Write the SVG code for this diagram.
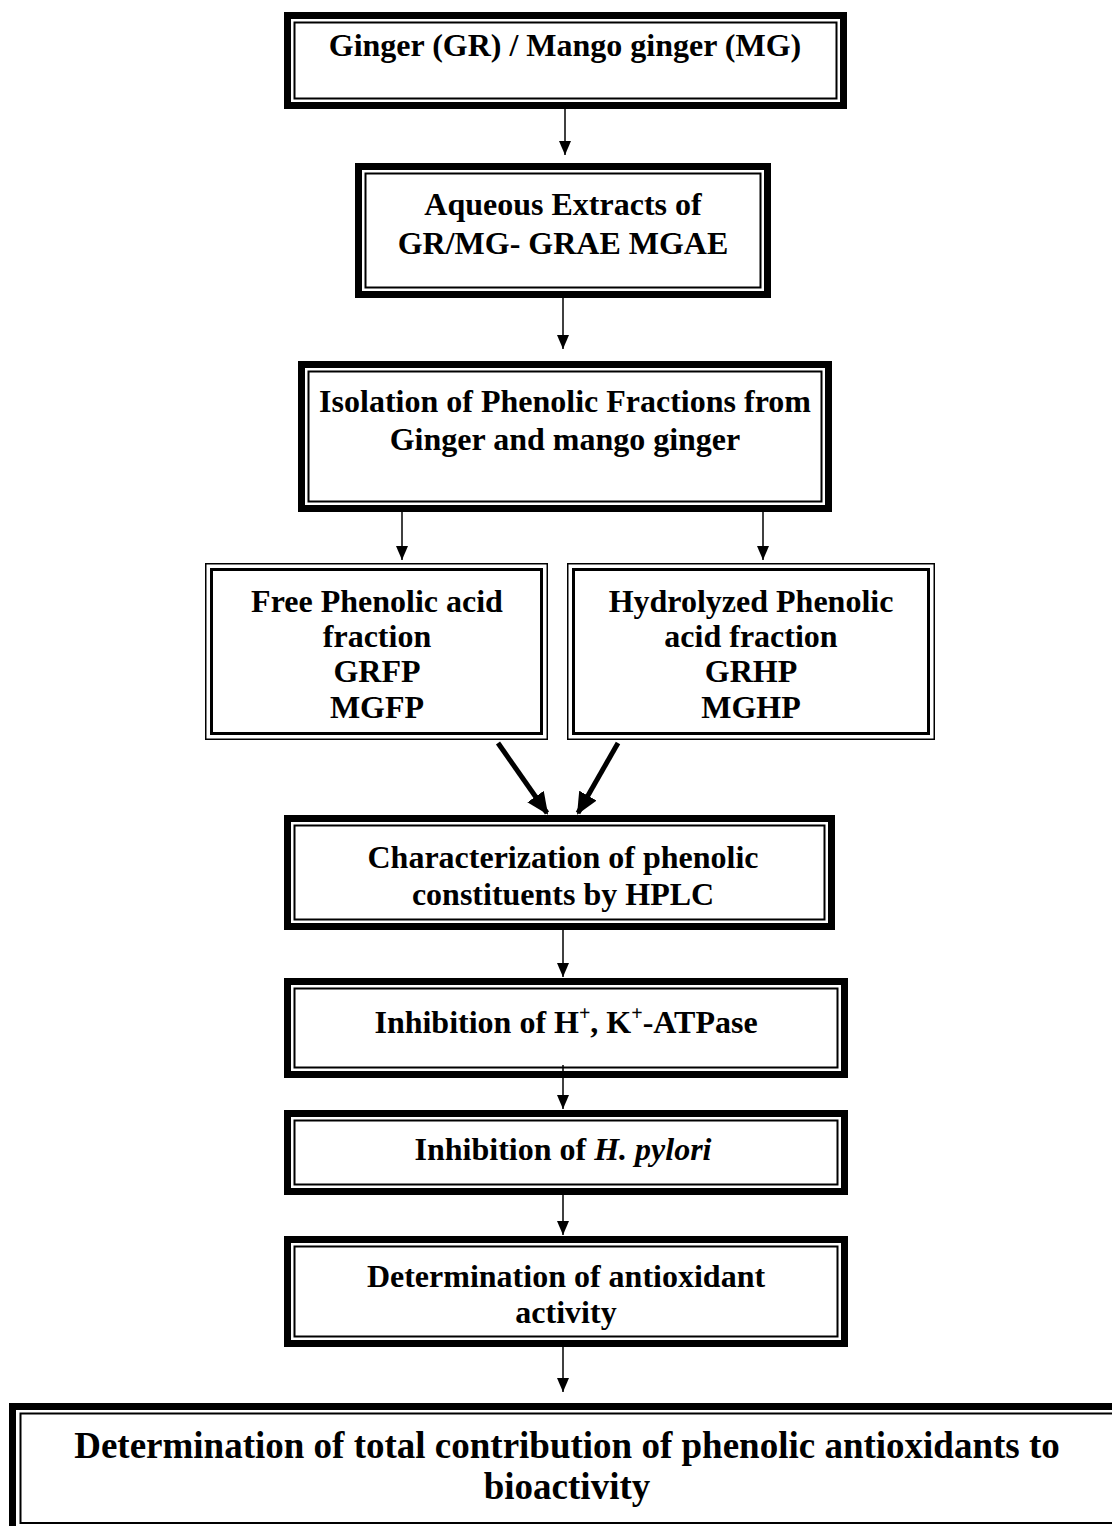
<svg xmlns="http://www.w3.org/2000/svg" width="1112" height="1526" viewBox="0 0 1112 1526">
  <style>
    .bg { fill: #ffffff; }
    .outer { fill: none; stroke: #000; stroke-width: 7; }
    .inner { fill: none; stroke: #000; stroke-width: 2; }
    .hair { fill: none; stroke: #000; stroke-width: 1.5; }
    .mid { fill: none; stroke: #000; stroke-width: 3; }
    .lbl { font-weight: bold; font-size: 32px; text-anchor: middle; fill: #000; }
    .big { font-size: 37px; }
    .conn { fill: none; stroke: #000; stroke-width: 1.5; }
    .heavy { fill: none; stroke: #000; stroke-width: 5; }
  </style>
  <defs>
    <marker id="tip" viewBox="0 0 14 12" refX="14" refY="6" markerWidth="14" markerHeight="12" markerUnits="userSpaceOnUse" orient="auto">
      <path d="M0,0 L14,6 L0,12 Z" fill="#000"/>
    </marker>
    <marker id="tipBig" viewBox="0 0 22 20" refX="20" refY="10" markerWidth="22" markerHeight="20" markerUnits="userSpaceOnUse" orient="auto">
      <path d="M0,0 L22,10 L0,20 Z" fill="#000"/>
    </marker>
  </defs>

  <rect class="bg" x="0" y="0" width="1112" height="1526"/>

  <!-- connectors -->
  <g id="connectors">
    <line class="conn" x1="565" y1="109" x2="565" y2="155" marker-end="url(#tip)"/>
    <line class="conn" x1="563" y1="298" x2="563" y2="349" marker-end="url(#tip)"/>
    <line class="conn" x1="402" y1="512" x2="402" y2="560" marker-end="url(#tip)"/>
    <line class="conn" x1="763" y1="512" x2="763" y2="560" marker-end="url(#tip)"/>
    <line class="heavy" x1="498" y1="743" x2="547" y2="813" marker-end="url(#tipBig)"/>
    <line class="heavy" x1="618" y1="743" x2="578" y2="813" marker-end="url(#tipBig)"/>
    <line class="conn" x1="563" y1="930" x2="563" y2="977" marker-end="url(#tip)"/>
    <line class="conn" x1="563" y1="1065" x2="563" y2="1109" marker-end="url(#tip)"/>
    <line class="conn" x1="563" y1="1193" x2="563" y2="1235" marker-end="url(#tip)"/>
    <line class="conn" x1="563" y1="1347" x2="563" y2="1392" marker-end="url(#tip)"/>
  </g>

  <g font-family="Liberation Serif, Tinos, Times New Roman, Times, Nimbus Roman, FreeSerif, serif">
  <g id="ginger">
    <rect class="outer" x="287.5" y="15.5" width="556" height="90"/>
    <rect class="inner" x="294.5" y="22.5" width="542" height="76"/>
    <text class="lbl" x="565" y="56">Ginger (GR) / Mango ginger (MG)</text>
  </g>

  <g id="aqueous-extracts">
    <rect class="outer" x="358.5" y="166.5" width="409" height="128"/>
    <rect class="inner" x="365.5" y="173.5" width="395" height="114"/>
    <text class="lbl" x="563" y="215">Aqueous Extracts of</text>
    <text class="lbl" x="563" y="254">GR/MG- GRAE MGAE</text>
  </g>

  <g id="isolation">
    <rect class="outer" x="301.5" y="364.5" width="527" height="144"/>
    <rect class="inner" x="308.5" y="371.5" width="513" height="130"/>
    <text class="lbl" x="565" y="412">Isolation of Phenolic Fractions from</text>
    <text class="lbl" x="565" y="450">Ginger and mango ginger</text>
  </g>

  <g id="free-phenolic">
    <rect class="hair" x="205.75" y="563.75" width="341.5" height="175.5"/>
    <rect class="mid" x="211.5" y="569.5" width="330" height="164"/>
    <text class="lbl" x="377" y="612">Free Phenolic acid</text>
    <text class="lbl" x="377" y="647">fraction</text>
    <text class="lbl" x="377" y="682">GRFP</text>
    <text class="lbl" x="377" y="718">MGFP</text>
  </g>

  <g id="hydrolyzed-phenolic">
    <rect class="hair" x="567.75" y="563.75" width="366.5" height="175.5"/>
    <rect class="mid" x="573.5" y="569.5" width="355" height="164"/>
    <text class="lbl" x="751" y="612">Hydrolyzed Phenolic</text>
    <text class="lbl" x="751" y="647">acid fraction</text>
    <text class="lbl" x="751" y="682">GRHP</text>
    <text class="lbl" x="751" y="718">MGHP</text>
  </g>

  <g id="hplc">
    <rect class="outer" x="287.5" y="818.5" width="544" height="108"/>
    <rect class="inner" x="294.5" y="825.5" width="530" height="94"/>
    <text class="lbl" x="563" y="868">Characterization of phenolic</text>
    <text class="lbl" x="563" y="905">constituents by HPLC</text>
  </g>

  <g id="atpase">
    <rect class="outer" x="287.5" y="981.5" width="557" height="93"/>
    <rect class="inner" x="294.5" y="988.5" width="543" height="79"/>
    <text class="lbl" x="566" y="1033">Inhibition of H<tspan dy="-13" font-size="20">+</tspan><tspan dy="13">, K</tspan><tspan dy="-13" font-size="20">+</tspan><tspan dy="13">-ATPase</tspan></text>
  </g>

  <g id="pylori">
    <rect class="outer" x="287.5" y="1113.5" width="557" height="78"/>
    <rect class="inner" x="294.5" y="1120.5" width="543" height="64"/>
    <text class="lbl" x="563" y="1160">Inhibition of <tspan font-style="italic">H. pylori</tspan></text>
  </g>

  <g id="antioxidant">
    <rect class="outer" x="287.5" y="1239.5" width="557" height="104"/>
    <rect class="inner" x="294.5" y="1246.5" width="543" height="90"/>
    <text class="lbl" x="566" y="1287">Determination of antioxidant</text>
    <text class="lbl" x="566" y="1323">activity</text>
  </g>

  <g id="total-contribution">
    <rect class="outer" x="12.5" y="1406.5" width="1200" height="130"/>
    <rect class="inner" x="20.5" y="1413.5" width="1190" height="109.5"/>
    <text class="lbl big" x="567" y="1458">Determination of total contribution of phenolic antioxidants to</text>
    <text class="lbl big" x="567" y="1499">bioactivity</text>
  </g>
  </g>
</svg>
